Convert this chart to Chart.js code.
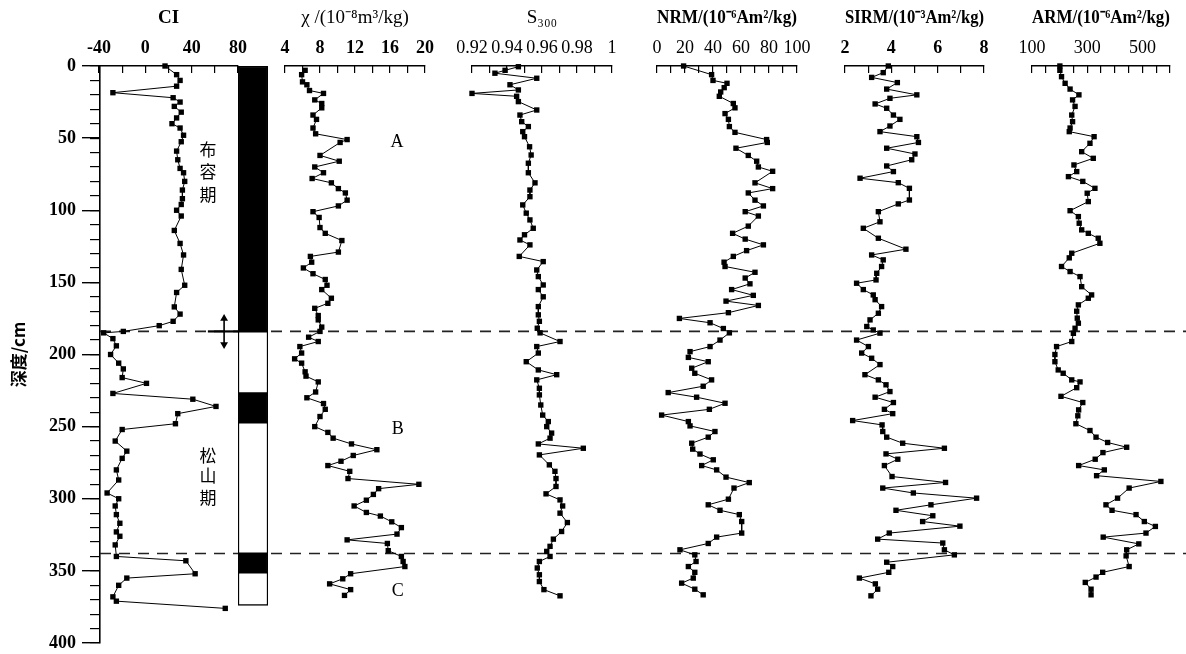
<!DOCTYPE html>
<html><head><meta charset="utf-8">
<script src="https://cdn.jsdelivr.net/npm/chart.js@4.4.1/dist/chart.umd.min.js"></script>
<style>
html,body{margin:0;padding:0;background:#fff;overflow:hidden;width:1186px;height:654px}
#wrap{position:relative;width:1186px;height:654px;overflow:hidden}
#wrap canvas{position:absolute;top:0}
</style></head><body><div id="wrap"></div>
<script>
// ---------------- DATA ----------------
const depthTicks = [0, 50, 100, 150, 200, 250, 300, 350, 400];

const ciDepth = [0,6,10,14,18.5,22,25,28,32,36,40,43,48,52.5,59,65,71,74,80,86,92,96,100,104,114,123,131,141,152,157,167,172,177,180,184,185,189,194,200,206,210,216,220,227,231,236,241,248,252,260,267,272,280,287,296,300,305,311,317,323,326,332,340,343,352,355,360,368,371,376];
const ciValue = [17,27,30,27,-28,24,30,25,31,27,23,30,33,31,27,28,30,33,34,32,32,31,27,31,25,30,33,31,34,27,25,30,24,12,-19,-36,-28,-25,-30,-23,-19,-20,1,-28,41,61,28,26,-20,-26,-16,-20,-25,-23,-33,-23,-26,-25,-22,-25,-22,-26,-25,35,43,-16,-23,-28,-25,69];

const chiDepth = [3,6,11,13,17,19,23.5,26,29,34,37,43,47,51,53,62,66,70,74,78,81,85,88,93,97,101,105,112,116,121,129,132,136,140,144,148,152,155,161,164.5,168,173,176,181,184,188,191,194.5,199,203,206,212,215,219,226,230,234,238,243,250,254,258,262,266,270,274,277,281,286,290,293,297,301,305,309.5,312,316,320,324.5,328.5,331,336,340,343.5,347,352,355.5,359,363,367];
const chiValue = [6.3,5.9,6.0,6.5,6.8,8.4,7.4,8.2,8.2,7.2,7.6,7.2,7.5,11.1,10.3,8.0,10.2,7.4,8.4,7.1,9.3,10.1,10.9,11.1,10.1,7.2,7.9,8.0,8.6,10.5,10.1,6.9,7.05,6.1,7.2,8.6,8.8,8.2,9.3,8.9,7.4,7.8,7.8,8.2,8.0,6.7,7.8,5.7,5.9,5.1,5.9,6.3,6.4,7.8,7.5,6.5,8.4,8.6,8.0,7.4,8.9,9.5,11.6,14.5,11.8,10.4,8.9,11.4,11.2,19.3,14.7,14.1,13.3,11.9,13.3,14.9,16.2,17.3,16.8,11.1,15.7,15.8,17.3,17.5,17.7,11.5,10.6,9.1,11.5,10.8];

const s300Depth = [0.5,3,5,8.5,13,16.6,19,21,24.7,30.5,34,38.6,42,45.5,49,56,61.7,67.4,74,81,86,90.6,96.3,102,106.7,112.5,117,120.6,124,132,135.6,141.4,146,151.8,155,160,166.8,172.5,177,181.8,185,191,194.5,199,205,210.7,214,217.6,223.4,228,235,242,246.5,250,254.5,258,262,265,269.6,276.5,281,286,291.5,296.6,300.8,305,310,316.5,322.7,328,333,336.5,340,343.5,348,352.7,357.4,363,367.3];
const s300Value = [0.9465,0.9389,0.9331,0.957,0.9417,0.9465,0.92,0.9455,0.9465,0.957,0.9474,0.9484,0.9522,0.949,0.95,0.9529,0.9538,0.9522,0.9522,0.956,0.9531,0.9531,0.949,0.951,0.9531,0.955,0.95,0.9474,0.9531,0.947,0.9607,0.957,0.9579,0.9607,0.9579,0.9607,0.9579,0.9579,0.9585,0.9573,0.9589,0.9703,0.957,0.9579,0.951,0.9579,0.9684,0.957,0.9585,0.9585,0.9593,0.9604,0.9636,0.9627,0.9655,0.9646,0.9579,0.9836,0.9585,0.9642,0.9674,0.968,0.968,0.9623,0.9703,0.9718,0.9703,0.9745,0.9712,0.9665,0.9646,0.9627,0.9646,0.9585,0.9573,0.9585,0.9585,0.9611,0.9703];

const nrmDepth = [0,6,10,12,15,18,21,26,29,33,37,42,46,51,53,57,62,66,70,73,81,85,88,93,97,101,104,111,116,120,124,128,132,136,139,143,147,151,155,159,163,166,171,175,178,182,185,190,194.5,198,202,205,209.5,213,217.6,222,226.4,229.6,233.8,238,242,246.5,249.5,253.4,257.3,261.5,265.6,269,273,277,280,285,288.8,292.6,300.3,304.2,308,311,315.8,323.8,326.6,331,335.4,338.9,343.5,347,351,355,358.5,362.7,366.6];
const nrmValue = [19,39,40,50,48,45.5,44.5,54.5,55.7,48.6,51,51.7,55.7,78.3,78.8,56.4,65.2,71.2,72.4,82.6,70,82.6,65.2,70,76,63,72.4,65.2,54,63,76,64,54.5,47.9,48.6,70,63,66.4,53.3,68.8,49.3,72.4,51,16,37.9,47.4,51.7,45,37.9,23.6,22.4,36.6,24.8,27,39,33,8,28.3,48.6,37.4,3.3,22.4,23.6,41.4,36.6,24.8,25.5,30.7,40.2,31.9,42.6,49.3,65.9,55,51,36.6,45,58.8,60.5,60.5,42.6,36.6,16.4,27,27.9,22.4,27,25.9,17.6,27,33];

const sirmDepth = [0,4.6,7.9,11.5,16,20,22.4,26.3,29.3,34,37,41.6,45.5,49,53,57,61,65,69.3,73.2,77.8,80.9,84.8,92.9,95.6,101,108,112.5,119.4,127,131,134.4,139,143.7,148.3,150.6,155,158.7,162,166.8,171.4,176,180.6,183,185.2,190,194.5,199,202.6,207,214,217.6,221,225.7,229.6,233.3,238,241,245.8,248.8,253.4,257.3,261.5,265,268.9,272.6,277,284.6,288.7,292.6,296,299.6,304.2,308,311.8,315.8,319,323.8,328,330.7,335.4,338.9,344,347,351,355,359,362.7,367.3];
const sirmValue = [3.87,3.65,3.15,4.26,3.8,5.1,3.94,3.3,3.8,4.09,4.37,3.94,3.51,5.1,5.17,3.8,5.02,4.88,3.8,4.09,2.65,4.3,4.78,4.78,4.3,3.44,3.51,2.79,3.44,4.63,3.15,3.65,3.58,3.37,3.34,2.5,2.79,3.22,3.3,3.58,3.44,3.08,2.94,3.22,3.51,2.5,3.01,2.72,3.15,3.51,2.86,3.44,3.77,3.94,3.3,4.09,3.7,4.06,2.33,3.6,3.63,3.8,4.49,6.29,3.77,4.28,3.7,4.03,6.34,3.63,4.95,7.68,5.71,4.2,5.79,5.35,6.96,3.91,3.41,6.22,6.29,6.72,3.8,4.06,3.89,2.62,3.31,3.41,3.12];

const armDepth = [0,3,7.4,12,16,20,23.5,28,34,38.6,43,45.5,49,53.6,59.4,64,68.6,73.2,76.7,80,84.8,88.2,94,100.3,104.4,109,113.6,116,119.4,122.9,129.8,133,139,142.5,146,153,158.7,161,165.6,170,174.8,178.3,181.8,185.3,191,194.5,200,205,210.7,213,217.6,219,223,229,233.3,238.4,242.5,248,252.7,257.3,261,264.3,268,272.6,277,280,284,288,292.6,299.6,304.2,308,311,315.8,319.2,323.8,326.6,331.3,335.4,339.6,347,351,354.3,358,362.7,366.6];
const armValue = [201,201,207,220,238,270,247,256,244,247,238,235,325,310,280,322,252,262,232,284,328,300,304,238,268,271,280,304,340,346,244,235,207,238,274,280,316,304,268,262,264,268,256,250,244,189,183,183,195,213,244,274,262,205,284,269,266,259,310,332,374,443,357,329,269,362,334,567,452,410,368,390,477,507,547,513,358,487,443,441,452,356,332,293,314,314];

// polarity column (N = normal / black, R = reversed / white)
const polarityTop    = [0, 184, 227, 247, 338, 351];
const polarityBottom = [184, 227, 247, 338, 351, 374];
const polarityType   = ['N','R','N','R','N','R'];

// boundary depths (dashed lines) and the arrow at the B/M boundary
const boundaryDepths = [184, 338];
const arrowDepths = [175, 193];
const arrowCI = 68;
const crossCI = [54, 80];

// ---------------- RENDER ----------------
Chart.defaults.font.family = "'Liberation Serif','Times New Roman',serif";
Chart.defaults.color = '#000';

const labelPlugin = {
  id: 'textLabels',
  afterDatasetsDraw(chart, args, opts) {
    const items = (opts && opts.items) || [];
    const ctx = chart.ctx;
    ctx.save();
    ctx.fillStyle = '#000';
    ctx.textAlign = 'center';
    ctx.textBaseline = 'middle';
    for (const it of items) {
      ctx.font = it.font;
      ctx.fillText(it.text, chart.scales.x.getPixelForValue(it.x), chart.scales.y.getPixelForValue(it.y));
    }
    ctx.restore();
  }
};
Chart.register(labelPlugin);

const wrap = document.getElementById('wrap');
function makeCanvas(left, width) {
  const c = document.createElement('canvas');
  c.width = width; c.height = 654;
  c.style.left = left + 'px';
  c.style.width = width + 'px'; c.style.height = '654px';
  wrap.appendChild(c);
  return c.getContext('2d');
}
const base = { responsive:false, animation:false, events:[], devicePixelRatio:1 };
const noPlug = { legend:{display:false}, tooltip:{enabled:false} };

// background: depth axis + dashed boundaries
new Chart(makeCanvas(0, 1186), {
  type: 'scatter',
  data: { datasets: boundaryDepths.map(d => ({
    data: [{x:0, y:d}, {x:1, y:d}], showLine:true, borderColor:'#222', borderWidth:1.6,
    borderDash:[11,8], pointRadius:0 })) },
  options: Object.assign({}, base, {
    layout: { padding: { top:66, bottom:11, left:0, right:0 } },
    plugins: noPlug,
    scales: {
      x: { type:'linear', min:0, max:1, display:false },
      y: { type:'linear', position:'left', reverse:true, min:0, max:400, weight:2,
           afterFit: s => { s.width = 100; s.paddingTop = 0; s.paddingBottom = 0; },
           afterBuildTicks: s => { s.ticks = depthTicks.map(v => ({value:v})); },
           grid: { drawOnChartArea:false, tickLength:18, color:'#000', lineWidth:1.4 },
           border: { display:true, color:'#000', width:1.6 },
           ticks: { padding:6, font:{ size:18, weight:'bold' }, color:'#000' },
           title: { display:true, text:'深度/cm', color:'#000', padding:{top:8, bottom:0},
                    font:{ family:"'Noto Sans CJK SC'", size:17, weight:'bold' } } },
      yMinor: { type:'linear', position:'left', reverse:true, min:0, max:400, weight:1,
           afterFit: s => { s.width = 0; s.paddingTop = 0; s.paddingBottom = 0; },
           grid: { drawOnChartArea:false, tickLength:10, color:'#000', lineWidth:1.2 },
           border: { display:false },
           ticks: { stepSize:10, display:false } }
    }
  })
});

// polarity column
new Chart(makeCanvas(238, 30), {
  type: 'bar',
  data: { labels:['P'], datasets: polarityTop.map((t, i) => ({
    data: [[t, polarityBottom[i]]],
    backgroundColor: polarityType[i] === 'N' ? '#000' : '#fff',
    borderColor:'#000', borderWidth:1.5, borderSkipped:false, grouped:false,
    barPercentage:1, categoryPercentage:1 })) },
  options: Object.assign({}, base, {
    layout: { padding: { top:66, bottom:11, left:0, right:0 } },
    plugins: noPlug,
    scales: { x:{ display:false }, y:{ display:false, reverse:true, min:0, max:400 } }
  })
});

function series(depths, values) {
  return { data: depths.map((d, i) => ({ x: values[i], y: d })), showLine:true,
           borderColor:'#000', borderWidth:1, pointStyle:'rect', pointRadius:3.8,
           pointBackgroundColor:'#000', pointBorderWidth:0, clip:false };
}

function panel(cfg) {
  const P = 30;
  const ctx = makeCanvas(cfg.left - P, cfg.right - cfg.left + 2 * P);
  return new Chart(ctx, {
    type: 'scatter',
    data: { datasets: [series(cfg.depths, cfg.values)].concat(cfg.extra || []) },
    options: Object.assign({}, base, {
      layout: { padding: { left:P, right:P, top:0, bottom:11 } },
      plugins: Object.assign({}, noPlug, { textLabels: { items: cfg.labels || [] } }),
      scales: {
        x: { type:'linear', position:'top', min:cfg.min, max:cfg.max,
             afterFit: s => { s.height = 66; },
             grid: { drawOnChartArea:false, tickLength:-7, color:'#000', lineWidth:1.2 },
             border: { color:'#000', width:1.5 },
             ticks: { stepSize:cfg.step, autoSkip:false, maxRotation:0, minRotation:0, padding:14,
                      color:'#000', font:{ size:18, weight:cfg.tickBold ? 'bold' : 'normal' },
                      callback: cfg.fmt },
             title: { display:true, text:cfg.title, color:'#000', padding:{top:7, bottom:0},
                      font:{ size:19, weight:cfg.titleBold ? 'bold' : 'normal' } } },
        y: { type:'linear', display:false, reverse:true, min:0, max:400 }
      }
    })
  });
}

const cjk = "17px 'Noto Sans CJK SC'";
const serif = "18px 'Liberation Serif'";

panel({ left:99, right:238, min:-40, max:80, step:20, title:'CI', titleBold:true, tickBold:true,
  fmt: v => ([-40, 0, 40, 80].includes(v) ? String(v) : ''),
  depths:ciDepth, values:ciValue,
  extra: [
    { data: arrowDepths.map(d => ({x:arrowCI, y:d})), showLine:true, borderColor:'#000', borderWidth:1.6,
      pointStyle:'triangle', pointRotation:[0,180], pointRadius:4.5, pointBackgroundColor:'#000', pointBorderWidth:0, clip:false },
    { data: crossCI.map(v => ({x:v, y:boundaryDepths[0]})), showLine:true, borderColor:'#000', borderWidth:2.2, pointRadius:0, clip:false }
  ],
  labels: [
    { text:'布', x:54, y:58, font:cjk }, { text:'容', x:54, y:73, font:cjk }, { text:'期', x:54, y:89, font:cjk },
    { text:'松', x:54, y:270, font:cjk }, { text:'山', x:54, y:284, font:cjk }, { text:'期', x:54, y:299, font:cjk }
  ] });

panel({ left:285, right:425, min:4, max:20, step:2, title:'χ /(10⁻⁸m³/kg)', titleBold:false, tickBold:true,
  fmt: v => (v % 4 === 0 ? String(v) : ''), depths:chiDepth, values:chiValue,
  labels: [ { text:'A', x:16.8, y:53, font:serif }, { text:'B', x:16.9, y:252, font:serif }, { text:'C', x:16.9, y:364, font:serif } ] });

panel({ left:472, right:612, min:0.92, max:1, step:0.01, title:'S₃₀₀', titleBold:false, tickBold:false,
  fmt: v => { const k = Math.round(v * 100); return k % 2 === 0 ? (k === 100 ? '1' : (k / 100).toFixed(2)) : ''; },
  depths:s300Depth, values:s300Value });

panel({ left:657, right:797, min:0, max:100, step:10, title:'NRM/(10⁻⁶Am²/kg)', titleBold:true, tickBold:false,
  fmt: v => (v % 20 === 0 ? String(v) : ''), depths:nrmDepth, values:nrmValue });

panel({ left:845, right:984, min:2, max:8, step:1, title:'SIRM/(10⁻³Am²/kg)', titleBold:true, tickBold:true,
  fmt: v => (v % 2 === 0 ? String(v) : ''), depths:sirmDepth, values:sirmValue });

panel({ left:1032, right:1170, min:100, max:600, step:50, title:'ARM/(10⁻⁶Am²/kg)', titleBold:true, tickBold:false,
  fmt: v => ((v - 100) % 200 === 0 && v < 600 ? String(v) : ''), depths:armDepth, values:armValue });
</script>
</body></html>
